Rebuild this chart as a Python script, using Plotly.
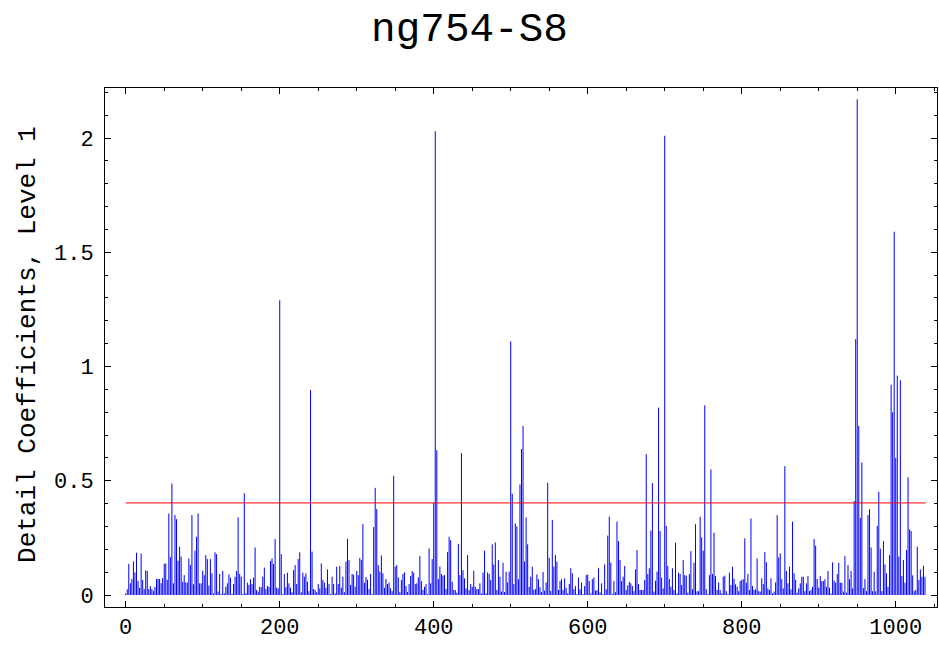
import plotly.graph_objects as go

# Level-1 detail coefficients (absolute values), sampled every 2nd index.
# Each block lists consecutive values starting at the given index.
coef_000 = [0.007, 0.025, 0.136, 0.051, 0.07, 0.147, 0.099, 0.185, 0.061, 0.031,
            0.181, 0.066, 0.026, 0.108, 0.105, 0.026, 0.039, 0.026, 0.017, 0.035,
            0.07, 0.07, 0.07, 0.052, 0.074, 0.137, 0.138, 0.066, 0.357, 0.166,
            0.488, 0.051, 0.35, 0.332, 0.15, 0.211, 0.168, 0.058, 0.087, 0.055,
            0.054, 0.16, 0.131, 0.35]
coef_088 = [0.047, 0.194, 0.255, 0.357, 0.051, 0.051, 0.106, 0.087, 0.175, 0.157,
            0.041, 0.157, 0.095, 0.007, 0.187, 0.179, 0.015, 0.092, 0.004, 0.106,
            0.007, 0.036, 0.051, 0.09, 0.076, 0.004, 0.048, 0.08, 0.105, 0.34,
            0.092, 0.08, 0.004, 0.445, 0.007, 0.054, 0.044, 0.069, 0.048, 0.076,
            0.208, 0.022, 0.015, 0.036, 0.034, 0.08, 0.12, 0.026]
coef_184 = [0.039, 0.036, 0.149, 0.16, 0.136, 0.245, 0.032, 0.029, 1.29, 0.179,
            0.004, 0.092, 0.034, 0.098, 0.051, 0.032, 0.012, 0.109, 0.131, 0.048,
            0.157, 0.187, 0.012, 0.098, 0.08, 0.095, 0.058, 0.017, 0.897, 0.19,
            0.026, 0.022, 0.012, 0.048, 0.029, 0.138, 0.066, 0.054, 0.032, 0.112,
            0.048, 0.004, 0.08, 0.048, 0.007, 0.124, 0.048, 0.127]
coef_280 = [0.032, 0.08, 0.012, 0.146, 0.246, 0.153, 0.044, 0.092, 0.089, 0.036,
            0.105, 0.087, 0.162, 0.153, 0.31, 0.054, 0.079, 0.067, 0.026, 0.092,
            0.004, 0.297, 0.469, 0.376, 0.131, 0.102, 0.173, 0.095, 0.031, 0.07,
            0.048, 0.054, 0.029, 0.017, 0.522, 0.124, 0.131, 0.077, 0.012, 0.066,
            0.092, 0.099, 0.039, 0.013, 0.048, 0.083, 0.105, 0.098]
coef_376 = [0.048, 0.051, 0.077, 0.171, 0.061, 0.022, 0.036, 0.047, 0.004, 0.204,
            0.051, 0.157, 0.404, 2.03, 0.634, 0.07, 0.124, 0.092, 0.085, 0.087,
            0.026, 0.188, 0.255, 0.24, 0.058, 0.022, 0.022, 0.01, 0.223, 0.087,
            0.621, 0.109, 0.073, 0.029, 0.175, 0.022, 0.048, 0.036, 0.106, 0.036,
            0.026, 0.026, 0.051, 0.007, 0.098, 0.194, 0.007, 0.099]
coef_472 = [0.092, 0.066, 0.222, 0.133, 0.23, 0.022, 0.153, 0.08, 0.015, 0.141,
            0.013, 0.102, 0.055, 0.102, 1.11, 0.443, 0.048, 0.313, 0.3, 0.069,
            0.484, 0.639, 0.74, 0.146, 0.34, 0.222, 0.036, 0.08, 0.124, 0.022,
            0.026, 0.09, 0.069, 0.034, 0.012, 0.101, 0.019, 0.055, 0.491, 0.163,
            0.017, 0.329, 0.124, 0.175, 0.146, 0.022, 0.061, 0.069]
coef_568 = [0.022, 0.073, 0.032, 0.007, 0.048, 0.117, 0.095, 0.025, 0.039, 0.004,
            0.076, 0.025, 0.055, 0.004, 0.039, 0.087, 0.09, 0.061, 0.007, 0.069,
            0.077, 0.019, 0.022, 0.117, 0.012, 0.051, 0.003, 0.134, 0.025, 0.26,
            0.343, 0.141, 0.004, 0.061, 0.012, 0.321, 0.236, 0.153, 0.061, 0.08,
            0.127, 0.022, 0.042, 0.058, 0.051, 0.039, 0.017, 0.112]
coef_664 = [0.197, 0.048, 0.022, 0.022, 0.022, 0.066, 0.617, 0.092, 0.117, 0.281,
            0.49, 0.015, 0.063, 0.102, 0.82, 0.28, 0.076, 0.029, 2.01, 0.302,
            0.127, 0.07, 0.036, 0.117, 0.022, 0.229, 0.007, 0.098, 0.092, 0.044,
            0.153, 0.087, 0.085, 0.01, 0.092, 0.192, 0.025, 0.141, 0.31, 0.016,
            0.017, 0.343, 0.252, 0.194, 0.83, 0.025, 0.004, 0.087]
coef_760 = [0.55, 0.092, 0.273, 0.083, 0.022, 0.055, 0.022, 0.007, 0.08, 0.085,
            0.017, 0.004, 0.098, 0.044, 0.124, 0.071, 0.047, 0.036, 0.017, 0.061,
            0.066, 0.069, 0.248, 0.054, 0.092, 0.022, 0.335, 0.039, 0.022, 0.025,
            0.16, 0.017, 0.015, 0.073, 0.048, 0.188, 0.143, 0.029, 0.022, 0.073,
            0.007, 0.015, 0.055, 0.35, 0.165, 0.182, 0.069, 0.029]
coef_856 = [0.564, 0.105, 0.051, 0.124, 0.025, 0.321, 0.095, 0.066, 0.01, 0.029,
            0.051, 0.08, 0.08, 0.017, 0.051, 0.083, 0.017, 0.022, 0.036, 0.245,
            0.216, 0.07, 0.032, 0.083, 0.061, 0.061, 0.069, 0.036, 0.105, 0.032,
            0.007, 0.143, 0.063, 0.054, 0.092, 0.141, 0.054, 0.054, 0.015, 0.171,
            0.01, 0.131, 0.069, 0.105, 0.029, 0.411, 1.12, 2.17]
coef_952 = [0.74, 0.338, 0.58, 0.03, 0.069, 0.017, 0.35, 0.376, 0.208, 0.017,
            0.102, 0.016, 0.303, 0.452, 0.203, 0.017, 0.236, 0.134, 0.095, 0.036,
            0.175, 0.92, 0.80, 1.59, 0.60, 0.96, 0.168, 0.94, 0.083, 0.153,
            0.054, 0.197, 0.515, 0.287, 0.28, 0.086, 0.017, 0.022, 0.211, 0.066,
            0.112, 0.08, 0.128, 0.08]

blocks = [(0, coef_000), (88, coef_088), (184, coef_184), (280, coef_280),
          (376, coef_376), (472, coef_472), (568, coef_568), (664, coef_664),
          (760, coef_760), (856, coef_856), (952, coef_952)]
step = 2

threshold = 0.403
n_coef = 1039

x_ticks = [0, 200, 400, 600, 800, 1000]
y_ticks = [0, 0.5, 1, 1.5, 2]
y_tick_text = ["0", "0.5", "1", "1.5", "2"]

# vertical stems from zero up to each coefficient
xs, ys = [], []
for start, vals in blocks:
    for k, v in enumerate(vals):
        i = start + step * k
        xs += [i, i, None]
        ys += [0, v, None]

FONT = "Liberation Mono, Courier New, monospace"

fig = go.Figure()
fig.add_trace(go.Scatter(x=xs, y=ys, mode="lines",
                         line=dict(color="#0000ff", width=1),
                         hoverinfo="skip", showlegend=False))
fig.add_trace(go.Scatter(x=[0, n_coef], y=[threshold, threshold], mode="lines",
                         line=dict(color="#ff0000", width=1),
                         hoverinfo="skip", showlegend=False))

axis_common = dict(showline=True, linecolor="black", linewidth=1, mirror="ticks",
                   ticks="inside", ticklen=6, tickcolor="black", showgrid=False,
                   zeroline=False, tickfont=dict(family=FONT, size=22, color="black"))

fig.update_xaxes(range=[-26.9, 1053.6], tickvals=x_ticks,
                 minor=dict(dtick=50, ticks="inside", ticklen=3, tickcolor="black"),
                 **axis_common)
fig.update_yaxes(range=[-0.0525, 2.219], tickvals=y_ticks, ticktext=y_tick_text,
                 minor=dict(dtick=0.1, ticks="inside", ticklen=3, tickcolor="black"),
                 ticklabelstandoff=6,
                 **axis_common)

fig.update_layout(
    width=939, height=646,
    margin=dict(l=105, r=2, t=88, b=39),
    paper_bgcolor="white", plot_bgcolor="white",
    title=dict(text="ng754-S8", x=0.5, xanchor="center", y=1 - 27 / 646,
               yanchor="middle", yref="container",
               font=dict(family=FONT, size=41, color="black")),
    annotations=[dict(text="Detail Coefficients, Level 1", xref="paper", yref="paper",
                      x=-0.0925, y=0.505, xanchor="center", yanchor="middle",
                      textangle=-90, showarrow=False,
                      font=dict(family=FONT, size=26, color="black"))],
)

fig.write_html("out.html")
